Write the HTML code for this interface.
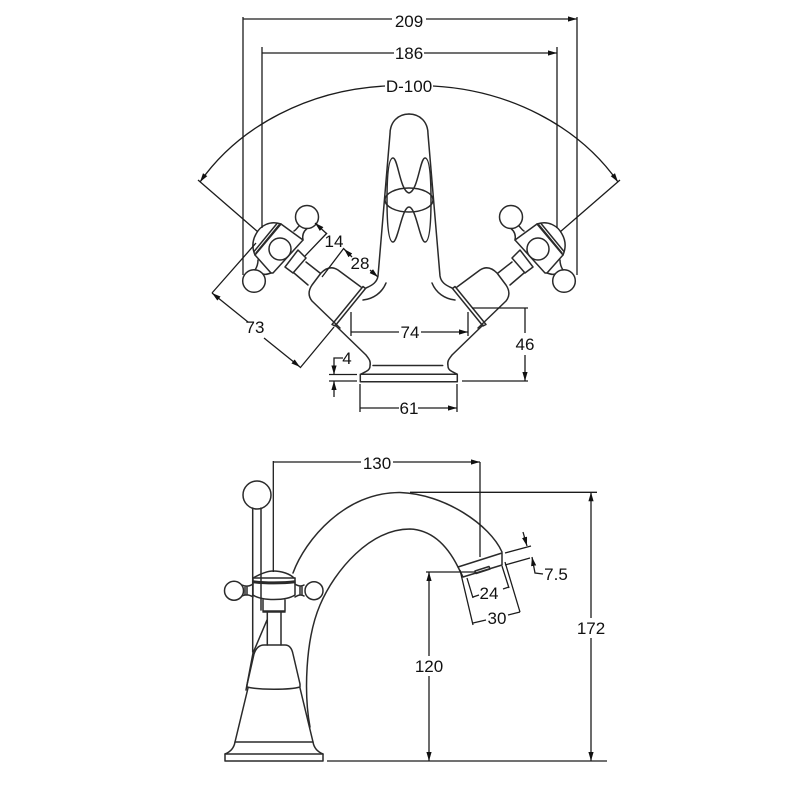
<!DOCTYPE html>
<html><head><meta charset="utf-8"><style>
html,body{margin:0;padding:0;background:#fff}
svg{display:block}
text{font-family:"Liberation Sans",sans-serif;font-size:17px;fill:#111;text-anchor:middle}
.d{fill:none;stroke:#1c1c1c;stroke-width:1.3}
.o{fill:none;stroke:#2a2a2a;stroke-width:1.5;stroke-linejoin:round;stroke-linecap:round}
</style></head><body>
<svg width="800" height="800" viewBox="0 0 800 800" xmlns="http://www.w3.org/2000/svg">
<defs>
<marker id="a" markerUnits="userSpaceOnUse" markerWidth="10" markerHeight="6" refX="9" refY="3" orient="auto-start-reverse"><path d="M0 .4L9 3L0 5.600Z" fill="#111"/></marker>
<g id="half">
  <path class="o" d="M409 114C420 114 428 122 428 134L440 276C441 282 445 285 452 288"/>
  <path class="o" d="M432 283C436 293 445 299 455 300"/>
  <path class="o" d="M483 326L452.500 288.500L455 286.500L486 324.500Z"/>
  <path class="o" d="M457 287L480 270C486 266 492 268 497 273L506 285C510 291 510 296 506 301L478 328"/>
  <path class="o" d="M498 273L512 262M510 285L524 273"/>
  <path class="o" d="M512 258L520 250L533 267L525 273Z"/>
  <path class="o" d="M515 240L537 224L563 255L547 273H545Z"/>
  <path class="o" d="M537 224C548 220 558 226 562 234C566 241 566 248 563 255"/>
  <path class="o" d="M539 225L562 253M541 223.500L564 251.500"/>
  <circle class="o" cx="511" cy="217" r="11.500"/>
  <path class="o" d="M515 240C516 235 514 231 511 228.500M524 231C522 230 521 228 519 226"/>
  <circle class="o" cx="564" cy="281" r="11.300"/>
  <path class="o" d="M547 273C550 274 552 275 555 274M560 260C560 264 561 267 563 270"/>
  <circle class="o" cx="538" cy="249" r="11"/>
  <path class="o" d="M483 325L452 355C449 359 447 361 448 366C448 370 451 371 457 374"/>
</g>
</defs>
<rect width="800" height="800" fill="#fff"/>

<!-- front view -->
<use href="#half"/>
<use href="#half" transform="translate(818,0) scale(-1,1)"/>
<ellipse class="o" cx="409" cy="200" rx="24" ry="12"/>
<path class="o" d="M409 193C400 191 398 158 393 158C388 158 387 180 387 200C387 220 388 242 393 242C398 242 402 207 409 207C416 207 420 242 425 242C430 242 431 220 431 200C431 180 430 158 425 158C420 158 418 191 409 193Z"/>
<path class="o" d="M360.300 374.300H457.300V381.700H360.300Z"/>
<path class="o" d="M373 365.500H442.700"/>

<!-- front dims -->
<path class="d" d="M243 17V275M577 17V275M262 47V228M557 47V228"/>
<path class="d" d="M392 19H243M426 19H577" marker-end="url(#a)"/>
<path class="d" d="M394 53H262M424 53H557" marker-end="url(#a)"/>
<text x="409" y="27">209</text>
<text x="409" y="59">186</text>
<path class="d" d="M385 86C310 90 240 125 200 182" marker-end="url(#a)"/>
<path class="d" d="M433 86C508 90 578 125 618 182" marker-end="url(#a)"/>
<path class="d" d="M198 180L258 232M620 180L560 232"/>
<text x="409" y="92">D-100</text>

<path class="d" d="M212 293L256 243M300 368L334 327"/>
<path class="d" d="M248 322L212 293" marker-end="url(#a)"/>
<path class="d" d="M264 338L300 367" marker-end="url(#a)"/>
<text x="255" y="333">73</text>

<path class="d" d="M327 233L305 256M344 248L322 277"/>
<path class="d" d="M327 234L315 223" marker-end="url(#a)"/>
<text x="334" y="247">14</text>
<path class="d" d="M352 257L344 249" marker-end="url(#a)"/>
<text x="360" y="269">28</text>
<path class="d" d="M370 270L378 277" marker-end="url(#a)"/>

<path class="d" d="M351 312V336M468 312V336"/>
<path class="d" d="M399 332H351M421 332H468" marker-end="url(#a)"/>
<text x="410" y="338">74</text>

<path class="d" d="M472 308H528M462 381H528"/>
<path class="d" d="M525 333V308M525 355V381" marker-end="url(#a)"/>
<text x="525" y="350">46</text>

<path class="d" d="M360 384V412M457 384V412"/>
<path class="d" d="M399 408H360M418 408H457" marker-end="url(#a)"/>
<text x="409" y="414">61</text>

<path class="d" d="M329 374.500H357M329 381H357"/>
<path class="d" d="M343 358H334V374.500" marker-end="url(#a)"/>
<path class="d" d="M334 397V381" marker-end="url(#a)"/>
<text x="347" y="364">4</text>

<!-- side view -->
<circle class="o" cx="257" cy="495" r="14"/>
<path class="o" d="M252.700 508V652M261 508V610M267 620L253 653L246 690"/>
<path class="o" d="M253 578C262 573 268 571 273 571C282 571 290 574 294 578"/>
<path class="o" d="M253 578H295M253 582.500C265 584 283 584 295 582.500M253 581C265 582.500 283 582.500 295 581"/>
<path class="o" d="M253 578V595C262 601 286 601 295 595V578"/>
<circle class="o" cx="234" cy="590.700" r="9.500"/>
<circle class="o" cx="314" cy="590.700" r="9"/>
<path class="o" d="M242 585C246 587 250 586 253 584M242 596C246 594 250 595 253 597M245 587V595M247 587V595M304 585C301 587 298 586 295 584M304 596C301 594 298 595 295 597M302 587V595M300 587V595"/>
<path class="o" d="M263 600V611H285V600M263 612H285M267.300 612V645M281 612V645"/>
<path class="o" d="M254 654C256 648 259 645 264 645H285C290 645 292 649 293 654L300 684L300 687C290 690 258 690 247 687L247 685L254 654"/>
<path class="o" d="M248 688L235 742C234 748 230 752 225 754V761H323V754C318 752 314 748 313 742L300 688"/>
<path class="o" d="M235 742H313M225 754H323"/>
<path class="o" d="M293 573C305 540 345 492 400 492.500C445 494 490 525 502 552"/>
<path class="o" d="M310 727C304 695 305 640 320 605C335 570 370 529 410 529C432 530 447 545 458 567"/>
<path class="o" d="M458 567L502 553M463 577L502 565M458 567L463 577M502 553V565M475 571L489 566.500L490 569L476 573.500Z"/>
<path class="d" d="M273.300 461V572"/>
<path class="d" d="M361 462H273.300M393 462H480" marker-end="url(#a)"/>
<path class="d" d="M480 462V557"/>
<text x="377" y="469">130</text>
<path class="d" d="M410 492.300H597"/>
<path class="d" d="M591 618V492.300" marker-end="url(#a)"/>
<path class="d" d="M591 638V761" marker-end="url(#a)"/>
<text x="591" y="634">172</text>
<path class="d" d="M327 761H607M426 572H475"/>
<path class="d" d="M429 656V572" marker-end="url(#a)"/>
<path class="d" d="M429 676V761" marker-end="url(#a)"/>
<text x="429" y="672">120</text>
<path class="d" d="M505 553L531 546M505 565L530 558"/>
<path class="d" d="M523 532L527 546" marker-end="url(#a)"/>
<path class="d" d="M543 574L535 573L532 557" marker-end="url(#a)"/>
<text x="556" y="580">7.5</text>
<path class="d" d="M467 578L473 598M502 566L509 588M460 570L473 625M505 562L520 612"/>
<path class="d" d="M479 595L473 597M503 589L509 587"/>
<text x="489" y="599">24</text>
<path class="d" d="M486 620L473 623M508 615L520 612"/>
<text x="497" y="624">30</text>
</svg>
</body></html>
